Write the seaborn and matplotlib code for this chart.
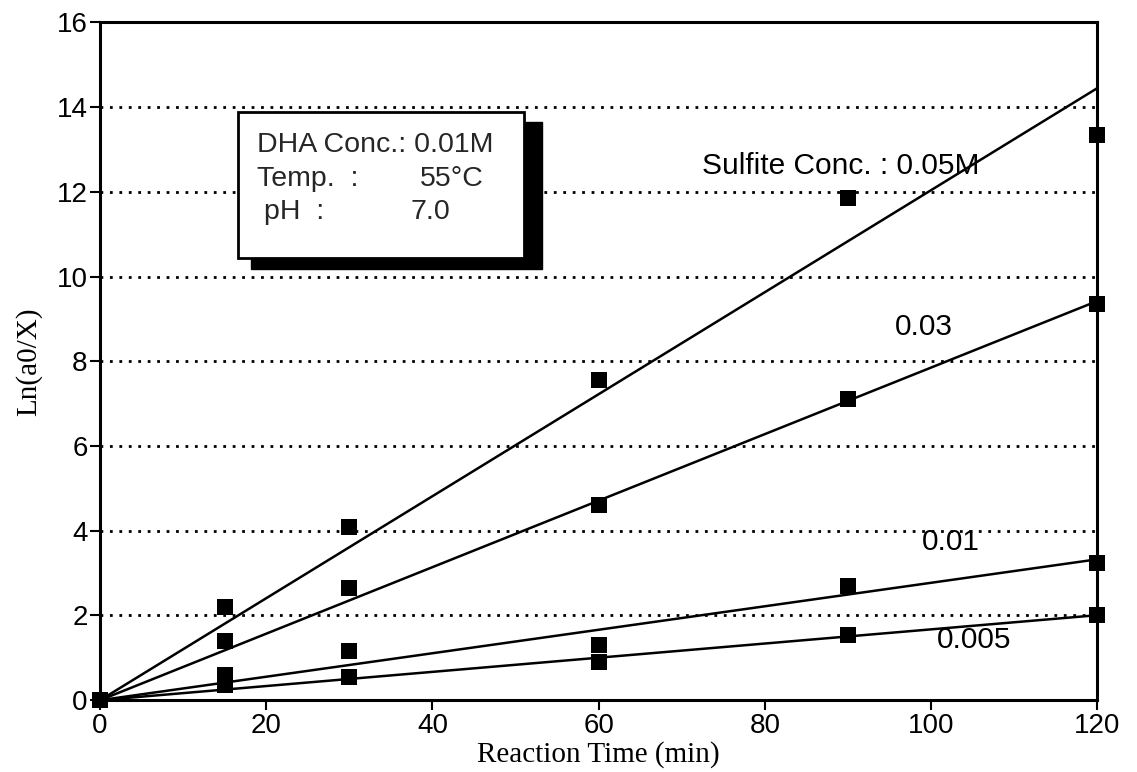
import numpy as np
import pandas as pd
import matplotlib
matplotlib.use("Agg")
import matplotlib.pyplot as plt
from matplotlib.patches import Rectangle
import seaborn as sns

# Reaction time (min) and ln(a0/X) for each sulfite concentration
time_min = [0, 15, 30, 60, 90, 120]
sulfite_conc = ["0.05", "0.03", "0.01", "0.005"]
ln_005 = [0.0, 2.2, 4.1, 7.55, 11.85, 13.35]
ln_003 = [0.0, 1.4, 2.65, 4.6, 7.1, 9.35]
ln_001 = [0.0, 0.6, 1.15, 1.3, 2.7, 3.25]
ln_0005 = [0.0, 0.35, 0.55, 0.9, 1.55, 2.0]
series_values = [ln_005, ln_003, ln_001, ln_0005]

curve_labels = ["Sulfite Conc. : 0.05M", "0.03", "0.01", "0.005"]
y_ticks = [0, 2, 4, 6, 8, 10, 12, 14, 16]
x_ticks = [0, 20, 40, 60, 80, 100, 120]

rows = []
for conc, vals in zip(sulfite_conc, series_values):
    for t, v in zip(time_min, vals):
        rows.append({"time": t, "lnratio": v, "conc": conc})
df = pd.DataFrame(rows)

# first-order fits through the origin
fit_rows = []
for conc, vals in zip(sulfite_conc, series_values):
    t = np.array(time_min, float)
    y = np.array(vals, float)
    k = (t * y).sum() / (t * t).sum()
    for tt in (0, 120):
        fit_rows.append({"time": tt, "lnratio": k * tt, "conc": conc})
fit_df = pd.DataFrame(fit_rows)

sns.set_theme(style="white")
plt.rcParams["font.family"] = ["Liberation Sans", "DejaVu Sans"]

fig = plt.figure(figsize=(11.37, 7.72), dpi=100)
ax = fig.add_axes([0.088, 0.093, 0.877, 0.878])

# dotted horizontal grid
for yv in y_ticks[1:-1]:
    ax.axhline(yv, color="black", lw=2.0, ls=(0, (1, 2.4)), zorder=1)

sns.lineplot(data=fit_df, x="time", y="lnratio", units="conc", estimator=None,
             color="black", lw=1.8, ax=ax, zorder=3, legend=False)
sns.scatterplot(data=df, x="time", y="lnratio", marker="s", color="black",
                s=120, edgecolor="black", linewidth=0, ax=ax, zorder=4,
                legend=False, clip_on=False)

ax.set_xlim(0, 120)
ax.set_ylim(0, 16)
ax.set_xticks(x_ticks)
ax.set_yticks(y_ticks)
ax.tick_params(axis="both", direction="out", length=7, width=1.5, labelsize=20,
               colors="black", pad=2, bottom=True, left=True)
for sp in ax.spines.values():
    sp.set_color("black")
    sp.set_linewidth(2.2)

ax.set_xlabel("Reaction Time (min)", family="Liberation Serif", fontsize=21,
              labelpad=2, color="black")
ax.set_ylabel("Ln(a0/X)", family="Liberation Serif", fontsize=21,
              labelpad=10, color="black")

# curve labels
label_pos = [(72.4, 12.6), (95.6, 8.8), (98.9, 3.73), (100.7, 1.42)]
for txt, (lx, ly) in zip(curve_labels, label_pos):
    ax.text(lx, ly, txt, fontsize=21.5, va="center", ha="left", color="black", zorder=5)

# condition box with drop shadow
ax.add_patch(Rectangle((18.2, 10.17), 35.0, 3.49, facecolor="black",
                       edgecolor="black", zorder=6))
ax.add_patch(Rectangle((16.6, 10.45), 34.4, 3.43, facecolor="white",
                       edgecolor="black", lw=2.0, zorder=7))
box_fs = 20.5
ax.text(18.9, 12.95, "DHA Conc.: 0.01M", fontsize=box_fs, va="baseline", zorder=8)
ax.text(18.9, 12.13, "Temp.  :", fontsize=box_fs, va="baseline", zorder=8)
ax.text(38.5, 12.13, "55°C", fontsize=box_fs, va="baseline", zorder=8)
ax.text(19.7, 11.35, "pH  :", fontsize=box_fs, va="baseline", zorder=8)
ax.text(37.4, 11.35, "7.0", fontsize=box_fs, va="baseline", zorder=8)

fig.savefig("out.png", dpi=100, facecolor="white")
